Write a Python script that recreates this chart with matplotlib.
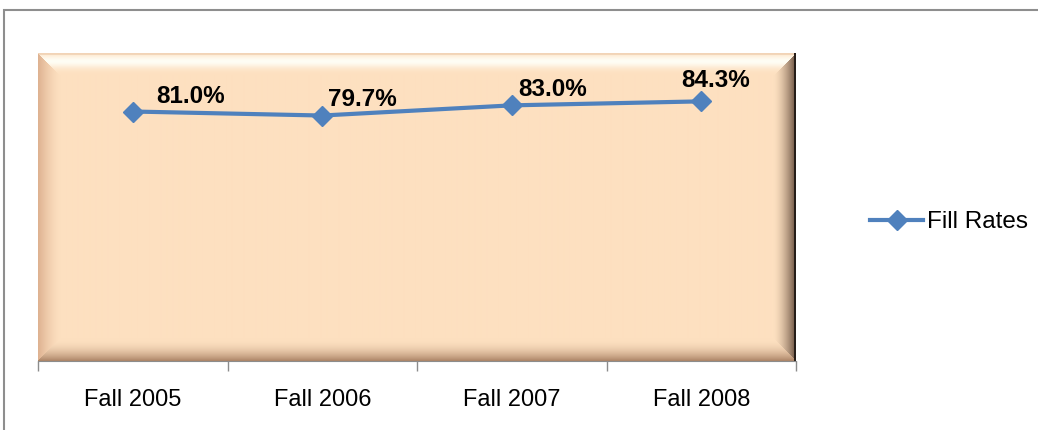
import numpy as np
import matplotlib
matplotlib.use("Agg")
import matplotlib.pyplot as plt
from matplotlib.patches import Rectangle

plt.rcParams["font.family"] = ["Liberation Sans", "DejaVu Sans"]

# data
terms = ["Fall 2005", "Fall 2006", "Fall 2007", "Fall 2008"]
fill_rates = [81.0, 79.7, 83.0, 84.3]
series_name = "Fill Rates"

# hand placed label offsets (pixels) as in the original
label_dx = [58, 40, 41, 14]
label_dy = [9, 10, 9, 14]

LINE = "#4F81BD"
PEACH = np.array([253, 224, 192]) / 255


def bevel_image(h=308, w=756, b=22):
    yy, xx = np.mgrid[0:h, 0:w].astype(float)
    dt, db, dl, dr = yy, h - 1 - yy, xx, w - 1 - xx
    d = np.stack([dt, db, dl, dr])
    face = d.argmin(axis=0)
    dmin = d.min(axis=0)
    t = np.clip(dmin / b, 0, 1)
    img = np.tile(PEACH, (h, w, 1))
    white = np.array([1.0, 1.0, 0.97])
    tan = np.array([222, 178, 145]) / 255
    dark = np.array([110, 85, 68]) / 255
    bottom = np.array([175, 135, 105]) / 255

    def mix(mask, col, f):
        f = f[mask][:, None]
        img[mask] = img[mask] * (1 - f) + col * f

    edge = dmin < b
    m = edge & (face == 0)
    mix(m, white, 0.95 * np.exp(-((t - 0.35) / 0.3) ** 2))
    m = edge & (face == 2)
    mix(m, tan, (1 - t) ** 1.5)
    m = edge & (face == 3)
    mix(m, dark, (1 - t) ** 1.6)
    m = edge & (face == 1)
    mix(m, bottom, (1 - t) ** 2)
    img[:2, :] = img[:2, :] * 0.6 + np.array([225, 185, 150]) / 255 * 0.4
    img[:, -2:] = [0.15, 0.12, 0.1]
    return img


fig = plt.figure(figsize=(10.38, 4.30), dpi=100)
ax = fig.add_axes([38 / 1038, 69 / 430, 758 / 1038, 308 / 430])

ax.imshow(bevel_image(), extent=(0, 1, 0, 1), transform=ax.transAxes,
          aspect="auto", zorder=0, interpolation="bilinear")

x = np.arange(len(terms))
ax.plot(x, fill_rates, color=LINE, linewidth=3, marker="D", markersize=10,
        label=series_name, zorder=3)

for xi, yi, dx, dy in zip(x, fill_rates, label_dx, label_dy):
    ax.annotate(f"{yi:.1f}%", (xi, yi), xytext=(dx, dy), textcoords="offset pixels",
                ha="center", va="baseline", fontsize=17.5, fontweight="bold", zorder=4)

ax.set_xlim(-0.5, len(terms) - 0.5)
ax.set_ylim(0, 100)
ax.set_yticks([])
ax.set_xticks(np.arange(len(terms) + 1) - 0.5, minor=False)
ax.set_xticklabels([])
ax.set_xticks(x, minor=True)
ax.set_xticklabels(terms, minor=True, fontsize=17)
ax.tick_params(axis="x", which="major", length=7, color="#8c8c8c", width=1)
ax.tick_params(axis="x", which="minor", length=0, pad=20)
for side in ["top", "right", "left"]:
    ax.spines[side].set_visible(False)
ax.spines["bottom"].set_color("#8c8c8c")

fig.legend(loc="center left", bbox_to_anchor=(870 / 1038, 1 - 222 / 430),
           frameon=False, fontsize=17.5, handlelength=2.2, handletextpad=0.15,
           borderpad=0, borderaxespad=0)

fig.patches.append(Rectangle((4 / 1038, -0.1), 1.2, (420 / 430) + 0.1,
                             transform=fig.transFigure, fill=False,
                             edgecolor="#8e8e8e", linewidth=1.5))

fig.savefig("out.png", dpi=100)
